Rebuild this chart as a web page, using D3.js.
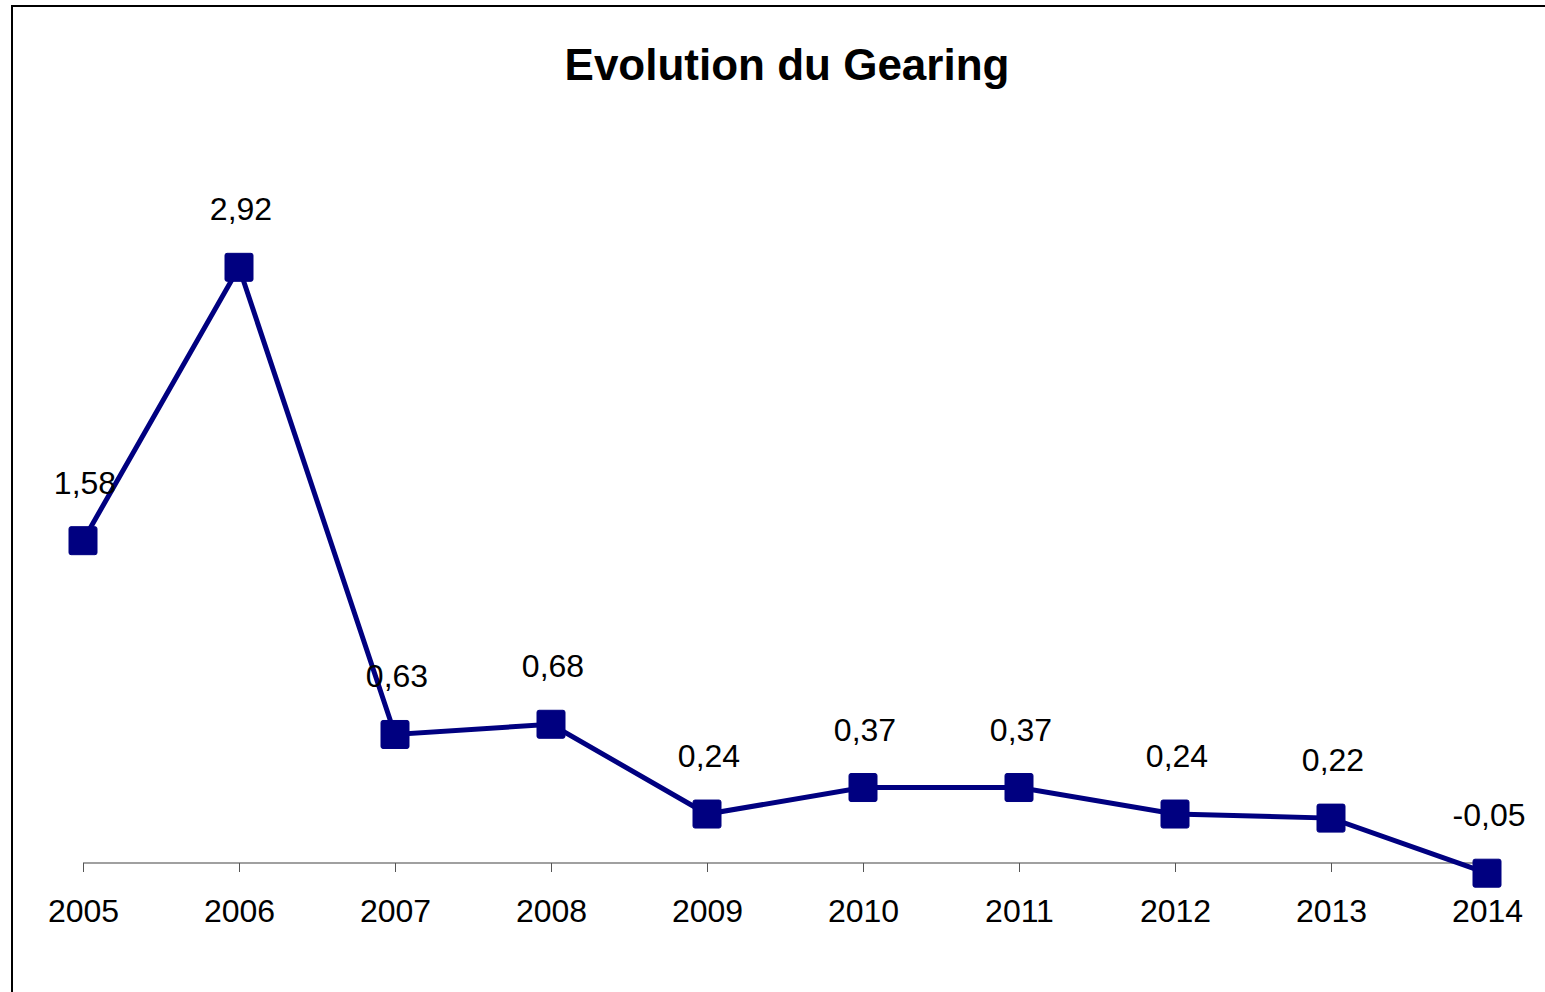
<!DOCTYPE html>
<html><head><meta charset="utf-8">
<script src="https://cdn.jsdelivr.net/npm/d3@7"></script>
<style>html,body{margin:0;padding:0;background:#fff;overflow:hidden}</style>
</head><body>
<svg id="chart" width="1545" height="992"></svg>
<script>
const title = "Evolution du Gearing";
const years = ["2005","2006","2007","2008","2009","2010","2011","2012","2013","2014"];
const gearing = [1.58, 2.92, 0.63, 0.68, 0.24, 0.37, 0.37, 0.24, 0.22, -0.05];

const svg = d3.select("#chart");
const font = "'Liberation Sans', Arial, sans-serif";
const navy = "#000080";

// frame
svg.append("rect").attr("x", 12).attr("y", 6).attr("width", 1600).attr("height", 1100)
  .attr("fill", "#fff").attr("stroke", "#000").attr("stroke-width", 2);

const x = d3.scalePoint().domain(years).range([83, 1487]);
const y = d3.scaleLinear().domain([0, 3]).range([863, 251]);

// category axis at zero
const axis = svg.append("g").attr("transform", `translate(0,${y(0)})`)
  .call(d3.axisBottom(x).tickSize(9).tickPadding(13));
axis.select(".domain").attr("stroke", "#808080").attr("stroke-width", 1.5)
  .attr("d", `M${x(years[0])},0H${x(years[years.length-1])}`);
axis.selectAll(".tick line").attr("stroke", "#555").attr("stroke-width", 1);
axis.selectAll(".tick text").attr("fill", "#000").attr("font-family", font)
  .attr("font-size", 32).attr("dy", 0).attr("y", 59);

// title
svg.append("text").attr("x", 787).attr("y", 80).attr("text-anchor", "middle")
  .attr("font-family", font).attr("font-weight", "bold").attr("font-size", 44)
  .attr("fill", "#000").text(title);

const data = years.map((yr, i) => ({yr, v: gearing[i]}));

svg.append("path").datum(data)
  .attr("fill", "none").attr("stroke", navy).attr("stroke-width", 5)
  .attr("stroke-linejoin", "miter")
  .attr("d", d3.line().x(d => x(d.yr)).y(d => y(d.v)));

const ms = 28;
svg.selectAll(".mk").data(data).join("rect").attr("class", "mk")
  .attr("x", d => x(d.yr) - ms/2).attr("y", d => y(d.v) - ms/2)
  .attr("width", ms).attr("height", ms).attr("rx", 2)
  .attr("fill", navy).attr("stroke", navy).attr("stroke-width", 1);

const fmt = v => d3.format(".2f")(v).replace(".", ",").replace("−", "-");
svg.selectAll(".lbl").data(data).join("text").attr("class", "lbl")
  .attr("x", d => x(d.yr) + 2).attr("y", d => y(d.v) - 47)
  .attr("text-anchor", "middle").attr("font-family", font).attr("font-size", 32)
  .attr("fill", "#000").text(d => fmt(d.v));
</script>
</body></html>
